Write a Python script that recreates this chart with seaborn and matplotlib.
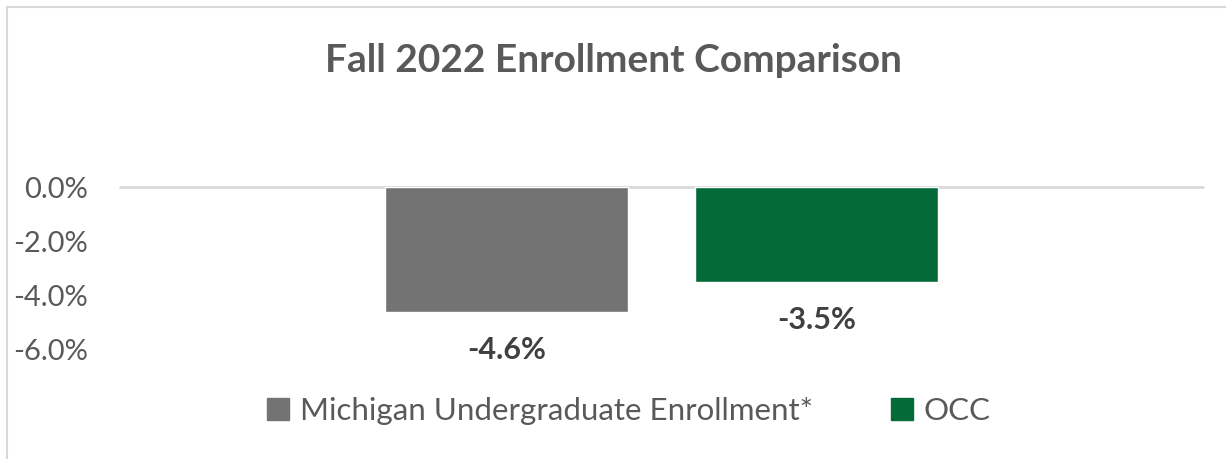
import matplotlib
matplotlib.use("Agg")
import matplotlib.pyplot as plt
import seaborn as sns
import pandas as pd
from matplotlib.lines import Line2D
from matplotlib.patches import Patch

series = ["Michigan Undergraduate Enrollment*", "OCC"]
values = [-4.6, -3.5]
colors = ["#737373", "#046A38"]
yticks = [0.0, -2.0, -4.0, -6.0]
title = "Fall 2022 Enrollment Comparison"

sns.set_theme(style="white")
plt.rcParams['font.family'] = ['Lato', 'DejaVu Sans']
txt = "#595959"

fig = plt.figure(figsize=(12.26, 4.59), dpi=100)
ax = fig.add_axes([120/1226, 1-350/459, (1203-120)/1226, (350-187)/459])

df = pd.DataFrame({"series": series, "value": values})
sns.barplot(data=df, x="series", y="value", hue="series", palette=colors,
            width=0.784, ax=ax, legend=False, saturation=1)

ax.set_xlim(-1.247, 2.247)
ax.set_ylim(-6.0, 0.0)
ax.set_yticks(yticks)
ax.set_yticklabels([f"{v:.1f}%" for v in yticks], color=txt, fontsize=21)
ax.tick_params(axis='y', length=0, pad=23)
ax.set_xticks([])
ax.set_xlabel("")
ax.set_ylabel("")
for s in ax.spines.values():
    s.set_visible(False)
ax.axhline(0, color="#D9D9D9", lw=2, zorder=0, clip_on=False)

for i, v in enumerate(values):
    ax.annotate(f"{v:.1f}%", xy=(i, v), xytext=(0, -17), textcoords="offset points",
                ha="center", va="top", fontsize=22, fontweight="bold", color="#404040")

fig.text(0.5, 1-60/459, title, ha="center", va="center", fontsize=28,
         fontweight="bold", color=txt)

handles = [Patch(facecolor=c, edgecolor=c) for c in colors]
fig.legend(handles, series, loc="center", bbox_to_anchor=(629/1226, 1-411/459), ncol=2,
           frameon=False, fontsize=22.5, labelcolor=txt, handlelength=0.7, handleheight=0.7,
           handletextpad=0.35, columnspacing=2.5)

# chart border (left and top visible)
fig.add_artist(Line2D([7/1226, 7/1226], [0, 1-7/459], transform=fig.transFigure, color="#D9D9D9", lw=1.5))
fig.add_artist(Line2D([7/1226, 1], [1-7/459, 1-7/459], transform=fig.transFigure, color="#D9D9D9", lw=1.5))

fig.savefig("out.png", dpi=100)
